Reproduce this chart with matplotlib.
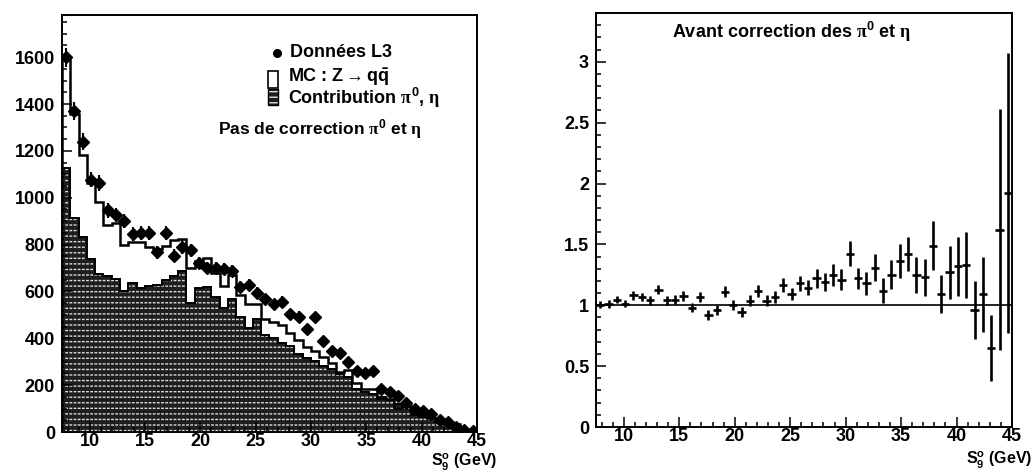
import numpy as np
import matplotlib
matplotlib.use("Agg")
import matplotlib.pyplot as plt
from matplotlib.patches import Rectangle
from matplotlib.ticker import MultipleLocator

plt.rcParams['font.family'] = ['Liberation Sans', 'DejaVu Sans']
plt.rcParams['font.weight'] = 'bold'
plt.rcParams['mathtext.fontset'] = 'custom'
plt.rcParams['mathtext.rm'] = 'Liberation Sans:bold'
plt.rcParams['mathtext.bf'] = 'Liberation Sans:bold'
plt.rcParams['mathtext.it'] = 'Liberation Sans:bold'
plt.rcParams['mathtext.sf'] = 'Liberation Serif'
plt.rcParams['mathtext.default'] = 'rm'
plt.rcParams['hatch.linewidth'] = 1.0

# Binning of the S9 energy spectrum (GeV)
S9_MIN, S9_MAX, BIN_WIDTH = 7.5, 45.0, 0.75

# L3 data (events per bin) and statistical errors
data_l3 = [1600, 1370, 1240, 1077, 1063, 946, 928, 900, 845, 850,
           850, 767, 850, 753, 790, 775, 722, 701, 701, 695,
           686, 618, 628, 595, 566, 545, 555, 503, 493, 438,
           492, 389, 346, 338, 297, 261, 251, 261, 183, 171,
           154, 123, 98, 91, 77, 52, 41, 22, 10, 4]
data_err = [40, 37, 35, 33, 33, 31, 30, 30, 29, 29,
            29, 28, 29, 27, 28, 28, 27, 26, 26, 26,
            26, 25, 25, 24, 24, 23, 24, 22, 22, 21,
            22, 20, 19, 18, 17, 16, 16, 16, 14, 13,
            12, 11, 10, 10, 9, 7, 6, 5, 3, 2]

# Monte Carlo Z -> q qbar
mc_zqq = [1592, 1356, 1184, 1062, 982, 885, 891, 797, 812, 812,
          791, 782, 795, 820, 824, 698, 730, 742, 677, 625,
          672, 585, 545, 546, 482, 470, 455, 423, 394, 362,
          345, 319, 293, 258, 265, 209, 185, 184, 146, 139,
          103, 113, 77, 69, 58, 54, 38, 34, 6, 2]

# Contribution of pi0 and eta photons
pi0_eta = [1126, 914, 833, 739, 673, 665, 655, 601, 635, 614,
           622, 628, 648, 667, 688, 552, 614, 618, 578, 530,
           566, 492, 445, 481, 413, 403, 382, 367, 332, 318,
           303, 282, 268, 247, 233, 185, 172, 162, 150, 136,
           119, 105, 86, 69, 58, 44, 34, 22, 5, 2]

# Data / MC ratio before the pi0 / eta correction
ratio = [1.005, 1.01, 1.047, 1.014, 1.082, 1.069, 1.041, 1.129, 1.041, 1.047,
         1.074, 0.981, 1.069, 0.918, 0.959, 1.11, 1.005, 0.945, 1.036, 1.118,
         1.036, 1.069, 1.165, 1.09, 1.18, 1.145, 1.22, 1.19, 1.25, 1.21,
         1.425, 1.22, 1.18, 1.31, 1.12, 1.25, 1.36, 1.42, 1.25, 1.23,
         1.49, 1.09, 1.27, 1.32, 1.33, 0.96, 1.09, 0.65, 1.62, 1.92]
ratio_err = [0.03, 0.03, 0.03, 0.03, 0.035, 0.035, 0.035, 0.04, 0.035, 0.035,
             0.04, 0.035, 0.04, 0.04, 0.04, 0.045, 0.04, 0.04, 0.045, 0.05,
             0.045, 0.05, 0.055, 0.05, 0.06, 0.06, 0.075, 0.075, 0.09, 0.085,
             0.10, 0.09, 0.095, 0.11, 0.10, 0.12, 0.14, 0.14, 0.15, 0.15,
             0.20, 0.155, 0.22, 0.24, 0.27, 0.24, 0.31, 0.27, 0.99, 1.15]

n_bins = len(data_l3)
edges = np.linspace(S9_MIN, S9_MAX, n_bins + 1)
centers = 0.5 * (edges[:-1] + edges[1:])

fig = plt.figure(figsize=(10.33, 4.72), dpi=100)
ax1 = fig.add_axes([0.060, 0.0847, 0.4017, 0.8835])
ax2 = fig.add_axes([0.577, 0.0953, 0.4027, 0.877])

FILL_DARK = '#1e1e1e'
FILL_LIGHT = '#dcdcdc'

def shaded_hist(ax, values):
    ax.stairs(values, edges, fill=True, facecolor=FILL_DARK,
              edgecolor=FILL_LIGHT, hatch='---', linewidth=0, zorder=1)
    ax.stairs(values, edges, fill=True, facecolor='none',
              edgecolor=FILL_DARK, hatch='||||', linewidth=0, zorder=1.1)
    ax.stairs(values, edges, color='black', linewidth=1.4, zorder=1.2)

# ---- left panel: spectrum ----
shaded_hist(ax1, pi0_eta)
ax1.stairs(mc_zqq, edges, color='black', linewidth=1.8, zorder=2)
ax1.errorbar(centers, data_l3, yerr=data_err, fmt='D', color='black',
             markersize=6.2, elinewidth=1.5, capsize=0, zorder=3)

ax1.set_xlim(S9_MIN, S9_MAX)
ax1.set_ylim(0, 1780)
ax1.xaxis.set_major_locator(MultipleLocator(5))
ax1.xaxis.set_minor_locator(MultipleLocator(1))
ax1.yaxis.set_major_locator(MultipleLocator(200))
ax1.yaxis.set_minor_locator(MultipleLocator(50))

# legend block
t = ax1.transAxes
ax1.plot([0.518], [0.909], 'o', color='black', markersize=5.5, transform=t, clip_on=False)
ax1.text(0.549, 0.909, 'Données L3', transform=t, ha='left', va='center', fontsize=13)
ax1.add_patch(Rectangle((0.496, 0.826), 0.024, 0.040, transform=t,
                        facecolor='white', edgecolor='black', linewidth=1.2))
ax1.text(0.545, 0.851, r'MC : Z $\!\!\rightarrow\!\!$ q$\bar{\mathrm{q}}$', transform=t,
         ha='left', va='center', fontsize=13)
ax1.add_patch(Rectangle((0.496, 0.785), 0.024, 0.037, transform=t,
                        facecolor=FILL_DARK, edgecolor=FILL_LIGHT, hatch='---', linewidth=0))
ax1.add_patch(Rectangle((0.496, 0.785), 0.024, 0.037, transform=t,
                        facecolor='none', edgecolor='black', linewidth=1.0))
ax1.text(0.545, 0.800, r'Contribution $\mathsf{\pi}^{0}$, $\mathsf{\eta}$', transform=t,
         ha='left', va='center', fontsize=13)
ax1.text(0.867, 0.727, r'Pas de correction $\mathsf{\pi}^{0}$ et $\mathsf{\eta}$',
         transform=t, ha='right', va='center', fontsize=12.5)

ax1.text(1.05, -0.073, r'S$_{9}^{o}$ (GeV)', transform=t, ha='right', va='center',
         fontsize=11.5)

# ---- right panel: data / MC ratio ----
ax2.axhline(1.0, color='black', linewidth=1.2, zorder=1)
ax2.errorbar(centers, ratio, xerr=BIN_WIDTH / 2, yerr=ratio_err, fmt='none',
             ecolor='black', elinewidth=1.9, capsize=0, zorder=2)
ax2.set_xlim(S9_MIN, S9_MAX)
ax2.set_ylim(0, 3.4)
ax2.xaxis.set_major_locator(MultipleLocator(5))
ax2.xaxis.set_minor_locator(MultipleLocator(1))
ax2.yaxis.set_major_locator(MultipleLocator(0.5))
ax2.yaxis.set_minor_locator(MultipleLocator(0.1))
ax2.yaxis.set_major_formatter(plt.FuncFormatter(lambda v, p: f'{v:g}'))

ax2.text(0.469, 0.954, r'Avant correction des $\mathsf{\pi}^{0}$ et $\mathsf{\eta}$',
         transform=ax2.transAxes, ha='center', va='center', fontsize=13)
ax2.text(1.05, -0.080, r'S$_{9}^{o}$ (GeV)', transform=ax2.transAxes, ha='right',
         va='center', fontsize=11.5)

for ax in (ax1, ax2):
    for sp in ax.spines.values():
        sp.set_linewidth(1.4)
    ax.tick_params(which='both', direction='in', top=False, right=False,
                   labelsize=13, width=1.1)
    ax.tick_params(which='major', length=7, pad=5)
    ax.tick_params(axis='x', which='major', pad=1)
    ax.tick_params(which='minor', length=3.5)
    for lbl in ax.get_xticklabels() + ax.get_yticklabels():
        lbl.set_fontweight('bold')

fig.savefig('out.png', dpi=100, facecolor='white')
